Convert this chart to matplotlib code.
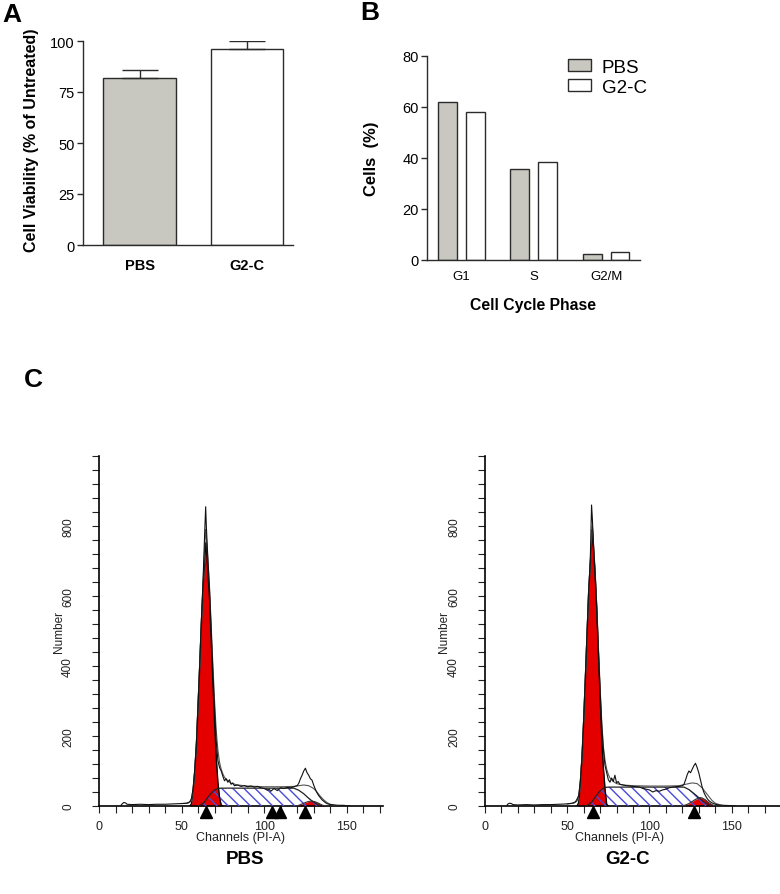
import matplotlib.pyplot as plt
from matplotlib.ticker import MultipleLocator, FixedLocator

plt.rcParams['font.family'] = ['Liberation Sans', 'DejaVu Sans']
plt.rcParams['hatch.linewidth'] = 1.0

GREY = "#c8c8c0"; EDGE = "#2b2b2b"; RED = "#e50000"; HATCH = "#4a4ad8"
W, H = 780, 895

# ---- panel A: viability
viab_groups = ["PBS", "G2-C"]
viab_mean = [82.0, 96.3]
viab_err = [4.0, 3.7]

# ---- panel B: cell cycle phases
phases = ["G1", "S", "G2/M"]
phase_pbs = [62.0, 35.5, 2.5]
phase_g2c = [58.0, 38.5, 3.3]

# ---- panel C: DNA histograms (channel, count)
pbs_raw_ch = [13, 14, 15, 16, 17, 20, 25, 30, 35, 40, 45, 50, 53, 55, 56, 57, 58, 59, 60, 61, 62, 63, 64, 64.6,
              65, 66, 67, 68, 69, 70, 71, 72, 73, 74, 75, 76, 77, 78, 79, 80, 81, 82, 84, 86, 88, 90, 92, 94,
              96, 98, 100, 102, 103, 104, 106, 108, 110, 112, 114, 116, 118, 120, 121, 122, 123, 124, 125, 126,
              127, 128, 129, 130, 131, 132, 133, 134, 135, 136, 137, 138, 140, 142, 145, 148, 150, 152]
pbs_raw_n = [0, 6, 10, 9, 5, 4, 5, 4, 5, 5, 6, 7, 8, 12, 22, 50, 105, 180, 290, 405, 530, 640, 780, 855,
             800, 700, 610, 495, 380, 275, 185, 130, 110, 100, 85, 72, 78, 68, 75, 62, 66, 58, 60, 56, 58, 55, 57, 54,
             56, 52, 50, 45, 48, 42, 50, 44, 52, 50, 53, 52, 55, 58, 65, 78, 88, 100, 108, 95,
             88, 78, 74, 60, 48, 38, 30, 24, 18, 14, 10, 7, 4, 3, 2, 2, 1, 0]
pbs_fit_ch = [50, 54, 56, 57, 58, 59, 60, 61, 62, 63, 64, 64.6, 65, 66, 67, 68, 69, 70, 71, 72, 73, 74, 75, 76,
              78, 80, 84, 90, 100, 110, 118, 121, 124, 127, 130, 132, 134, 136, 138, 140, 143, 146]
pbs_fit_n = [7, 8, 15, 50, 105, 185, 295, 410, 530, 640, 740, 790, 770, 700, 620, 510, 400, 300, 215, 160, 125, 105, 92, 82,
             72, 65, 60, 57, 55, 55, 56, 58, 60, 58, 50, 40, 28, 18, 10, 5, 2, 0]
pbs_g1_ch = [55, 56, 57, 58, 59, 60, 61, 62, 63, 64, 64.7, 65, 66, 67, 68, 69, 70, 71, 72, 73, 74, 75]
pbs_g1_n = [0, 6, 42, 97, 173, 286, 400, 519, 620, 700, 752, 745, 664, 590, 471, 353, 241, 140, 68, 24, 3, 0]
pbs_s_ch = [60, 62, 64, 66, 68, 70, 72, 74, 118, 121, 124, 127, 130, 132, 134]
pbs_s_n = [0, 4, 12, 25, 37, 46, 50, 51, 51, 45, 35, 22, 11, 5, 0]
pbs_g2_ch = [119, 121, 123, 125, 127, 129, 131, 133, 135, 137]
pbs_g2_n = [0, 2, 6, 10, 13, 14, 12, 8, 3, 0]
pbs_marks = [64.6, 105, 109.5, 125]

g2c_raw_ch = [13, 14, 15, 16, 17, 20, 25, 30, 35, 40, 45, 50, 53, 55, 56, 57, 58, 59, 60, 61, 62, 63, 64, 64.8,
              65.3, 66, 67, 68, 69, 70, 71, 72, 73, 74, 75, 76, 77, 78, 79, 80, 81, 82, 84, 86, 88, 90, 92, 94,
              96, 98, 100, 102, 104, 106, 108, 110, 112, 114, 116, 118, 120, 121, 122, 123, 124, 125, 126, 127,
              128, 129, 130, 131, 132, 133, 134, 135, 136, 137, 138, 140, 142, 145, 150, 152]
g2c_raw_n = [0, 6, 8, 7, 4, 3, 4, 3, 4, 4, 5, 6, 8, 12, 20, 30, 70, 140, 245, 365, 490, 610, 700, 860,
             820, 740, 660, 560, 440, 330, 230, 160, 115, 95, 75, 68, 80, 70, 88, 66, 70, 62, 60, 58, 57, 56, 55, 54,
             50, 48, 46, 40, 44, 42, 46, 48, 52, 54, 55, 56, 58, 62, 75, 90, 100, 95, 105, 115,
             122, 110, 95, 75, 55, 40, 30, 22, 16, 12, 9, 5, 3, 2, 1, 0]
g2c_fit_ch = [50, 54, 56, 57, 58, 59, 60, 61, 62, 63, 64, 65, 65.3, 66, 67, 68, 69, 70, 71, 72, 73, 74, 75, 76,
              78, 80, 84, 90, 100, 110, 118, 122, 126, 129, 132, 134, 136, 138, 140, 143, 146]
g2c_fit_n = [6, 8, 14, 30, 72, 145, 250, 370, 490, 612, 700, 780, 800, 750, 670, 570, 450, 340, 240, 170, 130, 105, 90, 80,
             70, 64, 60, 58, 57, 57, 58, 62, 66, 64, 52, 40, 28, 16, 8, 3, 0]
g2c_g1_ch = [56, 57, 58, 59, 60, 61, 62, 63, 64, 65, 65.3, 66, 67, 68, 69, 70, 71, 72, 73, 74, 75]
g2c_g1_n = [0, 10, 67, 140, 242, 359, 482, 607, 689, 767, 790, 735, 658, 557, 432, 312, 193, 109, 48, 5, 0]
g2c_s_ch = [61, 63, 65, 67, 69, 71, 73, 75, 121, 124, 127, 130, 133, 136, 138]
g2c_s_n = [0, 4, 12, 25, 38, 48, 53, 54, 54, 47, 36, 24, 12, 4, 0]
g2c_g2_ch = [120, 122, 124, 126, 128, 130, 131, 132, 134, 136, 138, 140]
g2c_g2_n = [0, 3, 7, 13, 19, 23, 24, 23, 18, 10, 4, 0]
g2c_marks = [65.5, 127]


def px_axes(x0, y0, x1, y1):
    return fig.add_axes([x0 / W, 1 - y1 / H, (x1 - x0) / W, (y1 - y0) / H])


def clean(ax, lw=1.0):
    ax.spines["top"].set_visible(False); ax.spines["right"].set_visible(False)
    for s in ("left", "bottom"):
        ax.spines[s].set_linewidth(lw); ax.spines[s].set_color(EDGE)


fig = plt.figure(figsize=(W / 100, H / 100), dpi=100)

# ---------------- A
axA = px_axes(83, 42, 293, 246)
xa = range(len(viab_groups))
axA.bar(xa, viab_mean, width=0.68, color=[GREY, "white"], edgecolor=EDGE, linewidth=1.0, zorder=2)
axA.errorbar(xa, viab_mean, yerr=[[0, 0], viab_err], fmt="none", ecolor=EDGE, elinewidth=1.0,
             capsize=13, capthick=1.0, zorder=3)
axA.set_xlim(-0.53, 1.43); axA.set_ylim(0, 100)
axA.set_yticks([0, 25, 50, 75, 100])
axA.set_xticks(list(xa)); axA.set_xticklabels(viab_groups, fontweight="bold", fontsize=10.5)
axA.tick_params(axis="x", length=0, pad=9)
axA.tick_params(axis="y", length=4, width=1.0, labelsize=10.5, pad=2, color=EDGE)
axA.set_ylabel("Cell Viability (% of Untreated)", fontweight="bold", fontsize=11.5)
axA.yaxis.set_label_coords(-0.21, 0.52)
clean(axA)
fig.text(2 / W, 1 - 3 / H, "A", fontsize=19, fontweight="bold", va="top", ha="left")

# ---------------- B
axB = px_axes(427, 57, 640, 261)
off = 0.193; bw = 0.262
xb = range(len(phases))
axB.bar([i - off for i in xb], phase_pbs, width=bw, color=GREY, edgecolor=EDGE, linewidth=1.0, label="PBS")
axB.bar([i + off for i in xb], phase_g2c, width=bw, color="white", edgecolor=EDGE, linewidth=1.0, label="G2-C")
axB.set_xlim(-0.48, 2.47); axB.set_ylim(0, 80)
axB.set_yticks([0, 20, 40, 60, 80])
axB.set_xticks(list(xb)); axB.set_xticklabels(phases, fontsize=9.5)
axB.tick_params(axis="x", length=0, pad=7)
axB.tick_params(axis="y", length=4, width=1.0, labelsize=10.5, pad=2, color=EDGE)
axB.set_ylabel("Cells  (%)", fontweight="bold", fontsize=12)
axB.yaxis.set_label_coords(-0.225, 0.5)
axB.set_xlabel("Cell Cycle Phase", fontweight="bold", fontsize=11.3, labelpad=11)
clean(axB)
axB.legend(loc="upper left", bbox_to_anchor=(568 / W, 1 - 60 / H), bbox_transform=fig.transFigure,
           frameon=False, fontsize=13.5, handlelength=1.25, handleheight=0.6, labelspacing=0.15,
           handletextpad=0.55, borderpad=0, borderaxespad=0)
fig.text(360 / W, 1 - 1 / H, "B", fontsize=19, fontweight="bold", va="top", ha="left")


# ---------------- C
def draw_hist(ax, raw_ch, raw_n, fit_ch, fit_n, g1_ch, g1_n, s_ch, s_n, g2_ch, g2_n, marks, xmax, xlab_x):
    ax.fill_between(g1_ch, g1_n, color=RED, lw=0, zorder=2)
    ax.fill_between(g2_ch, g2_n, color=RED, lw=0, zorder=2)
    ax.fill_between(s_ch, s_n, facecolor="none", edgecolor=HATCH, hatch="\\\\\\", lw=0, zorder=3)
    ax.plot(g1_ch, g1_n, color="black", lw=1.0, zorder=4)
    ax.plot(g2_ch, g2_n, color="#333333", lw=0.8, zorder=4)
    ax.plot(s_ch, s_n, color="#222222", lw=0.9, zorder=4)
    ax.plot(fit_ch, fit_n, color="#555555", lw=0.8, zorder=5)
    ax.plot(raw_ch, raw_n, color="#111111", lw=0.8, zorder=6)
    ax.plot(marks, [-18] * len(marks), "^", color="black", ms=9, clip_on=False, zorder=7)
    ax.set_xlim(0, xmax); ax.set_ylim(0, 1000)
    ax.xaxis.set_major_locator(MultipleLocator(50)); ax.xaxis.set_minor_locator(MultipleLocator(10))
    ax.yaxis.set_major_locator(FixedLocator([0, 200, 400, 600, 800]))
    ax.yaxis.set_minor_locator(MultipleLocator(40))
    ax.tick_params(which="both", length=5, width=0.8, color="#222222")
    ax.tick_params(axis="x", which="major", labelsize=9, pad=5, labelcolor="#222222")
    ax.tick_params(axis="y", which="major", labelsize=8.5, pad=13, labelrotation=90, labelcolor="#222222")
    for t in ax.get_yticklabels():
        t.set_va("center")
    ax.set_ylabel("Number", fontsize=8.5, color="#222222")
    ax.yaxis.set_label_coords(-0.118, 0.5)
    ax.set_xlabel("Channels (PI-A)", fontsize=9, color="#222222")
    ax.xaxis.set_label_coords(xlab_x, -0.072)
    clean(ax, lw=1.2)
    ax.spines["left"].set_color("black"); ax.spines["bottom"].set_color("black")


axC1 = px_axes(99, 457, 383, 807)
draw_hist(axC1, pbs_raw_ch, pbs_raw_n, pbs_fit_ch, pbs_fit_n, pbs_g1_ch, pbs_g1_n,
          pbs_s_ch, pbs_s_n, pbs_g2_ch, pbs_g2_n, pbs_marks, 172, 0.5)
axC2 = px_axes(485, 457, 781, 807)
draw_hist(axC2, g2c_raw_ch, g2c_raw_n, g2c_fit_ch, g2c_fit_n, g2c_g1_ch, g2c_g1_n,
          g2c_s_ch, g2c_s_n, g2c_g2_ch, g2c_g2_n, g2c_marks, 180, 0.456)

fig.text(24 / W, 1 - 368 / H, "C", fontsize=19, fontweight="bold", va="top", ha="left")
fig.text(245 / W, 1 - 860 / H, "PBS", fontsize=13.5, fontweight="bold", ha="center", va="center")
fig.text(628 / W, 1 - 860 / H, "G2-C", fontsize=13.5, fontweight="bold", ha="center", va="center")

fig.savefig("out.png", dpi=100, facecolor="white")
plt.close(fig)
